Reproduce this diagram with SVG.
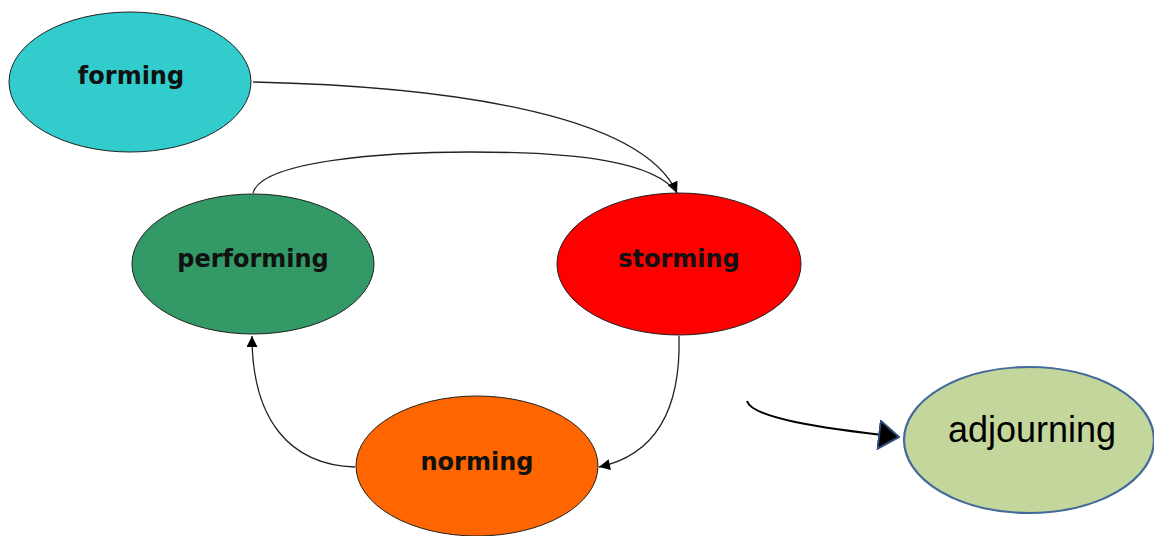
<svg xmlns="http://www.w3.org/2000/svg" width="1154" height="536" viewBox="0 0 1154 536">
<defs>
<style>
.n{stroke:#222;stroke-width:1}
.t{font-family:"DejaVu Sans",Verdana,sans-serif;font-weight:bold;font-size:24px;fill:#111;text-anchor:middle}
.c{fill:none;stroke:#222;stroke-width:1.3}
</style>
<marker id="ah" viewBox="0 0 10 10" refX="10" refY="5" markerWidth="12" markerHeight="11" markerUnits="userSpaceOnUse" orient="auto">
<path d="M0,0 L10,5 L0,10 z" fill="#000"/>
</marker>
<marker id="ah2" viewBox="0 0 22 30" refX="21" refY="15" markerWidth="22" markerHeight="30" markerUnits="userSpaceOnUse" orient="auto">
<path d="M1,1 L21,15 L1,29 z" fill="#000" stroke="#2F4B78" stroke-width="2"/>
</marker>
</defs>
<rect width="1154" height="536" fill="#fff"/>
<g id="connectors">
<path class="c" d="M253,82 C 430,86 640,110 677,193" marker-end="url(#ah)"/>
<path class="c" d="M253,193 C 262,160 390,152 470,152 C 580,152 655,162 677,193"/>
<path class="c" d="M679,336 C 681,410 655,455 599,467" marker-end="url(#ah)"/>
<path class="c" d="M355,467 C 290,465 252,420 252,336" marker-end="url(#ah)"/>
<path fill="none" stroke="#000" stroke-width="2" d="M747,401 C 752,418 820,428 899,437" marker-end="url(#ah2)"/>
</g>
<g id="forming">
<ellipse class="n" cx="130" cy="82" rx="121" ry="70" fill="#33CCCC"/>
<text class="t" x="131" y="84">forming</text>
</g>
<g id="performing">
<ellipse class="n" cx="253" cy="264" rx="121" ry="70" fill="#339966"/>
<text class="t" x="253" y="267">performing</text>
</g>
<g id="storming">
<ellipse class="n" cx="679" cy="264" rx="122" ry="71" fill="#FF0000"/>
<text class="t" x="679" y="267">storming</text>
</g>
<g id="norming">
<ellipse class="n" cx="477" cy="466" rx="121" ry="70" fill="#FF6600"/>
<text class="t" x="477" y="470">norming</text>
</g>
<g id="adjourning">
<ellipse cx="1029" cy="440" rx="125" ry="73" fill="#C3D69B" stroke="#41699A" stroke-width="2.2"/>
<text x="1032" y="442" font-family="'Liberation Sans',Arial,sans-serif" font-size="36" fill="#000" text-anchor="middle">adjourning</text>
</g>
</svg>
